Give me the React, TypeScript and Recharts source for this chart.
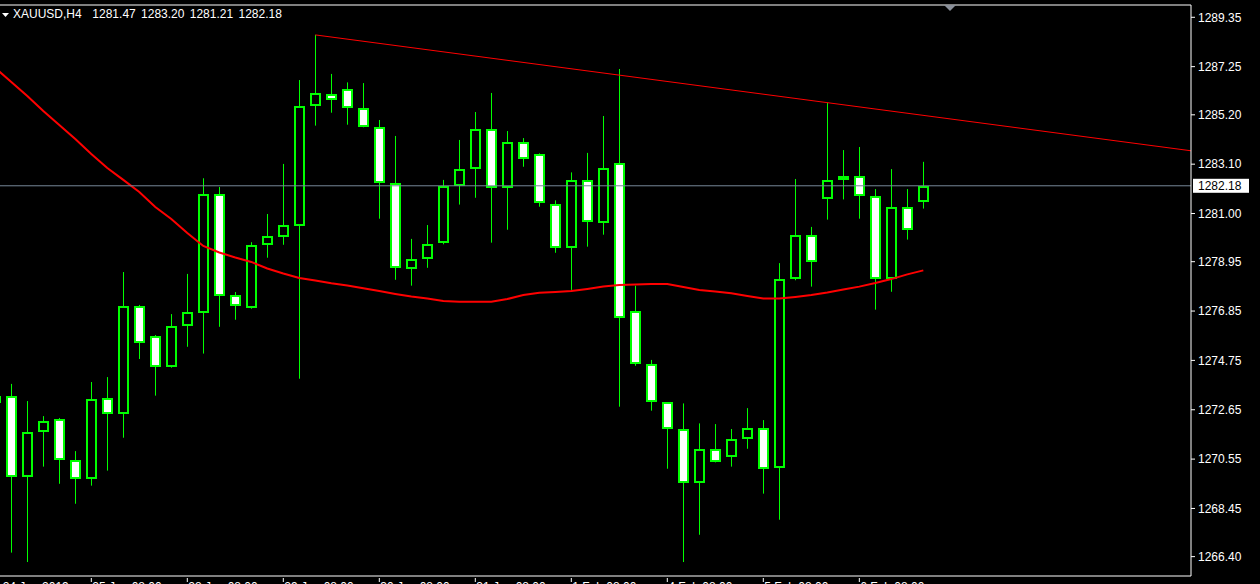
import React from 'react';
import { ComposedChart, Bar, Line, XAxis, YAxis, ReferenceLine } from 'recharts';

// XAUUSD H4 bars, first one is the partial bar cut by the left edge
const OPEN = [
  1272.94, 1273.24, 1269.78, 1271.69, 1272.24, 1270.5, 1269.69, 1273.14, 1272.46, 1277.06,
  1275.78, 1274.48, 1276.2, 1276.78, 1281.82, 1277.52, 1276.99, 1279.65, 1279.99, 1280.46,
  1285.56, 1286.07, 1286.29, 1285.48, 1284.67, 1282.29, 1278.63, 1279.05, 1279.73, 1282.16,
  1282.88, 1284.58, 1282.07, 1284.03, 1283.52, 1281.39, 1279.52, 1282.41, 1280.58, 1283.14,
  1276.84, 1274.58, 1272.97, 1271.82, 1269.52, 1270.97, 1270.63, 1271.39, 1271.86, 1270.16,
  1278.2, 1280.07, 1281.61, 1282.41, 1282.58, 1281.73, 1278.2, 1281.26, 1281.47,
];
const HIGH = [
  1273.24, 1273.75, 1273.02, 1272.38, 1272.3, 1270.89, 1273.83, 1274.04, 1278.51, 1277.11,
  1275.83, 1276.72, 1278.43, 1282.5, 1282.13, 1277.66, 1279.78, 1280.98, 1283.11, 1286.68,
  1288.6, 1286.94, 1286.58, 1286.55, 1284.98, 1284.3, 1279.92, 1280.51, 1282.43, 1284.13,
  1285.32, 1286.13, 1284.51, 1284.21, 1283.56, 1281.56, 1282.75, 1283.58, 1285.15, 1287.15,
  1277.93, 1274.77, 1272.97, 1272.92, 1272.07, 1272.04, 1271.83, 1272.72, 1272.21, 1278.89,
  1282.47, 1280.43, 1285.72, 1283.7, 1283.83, 1282.04, 1282.89, 1282.04, 1283.2,
];
const LOW = [
  1272.94, 1266.57, 1266.17, 1270.23, 1269.5, 1268.65, 1269.42, 1270.06, 1271.46, 1274.81,
  1273.25, 1274.44, 1275.33, 1275.04, 1276.18, 1276.48, 1276.95, 1279.12, 1279.67, 1273.97,
  1284.74, 1285.29, 1284.78, 1284.67, 1280.78, 1278.18, 1277.93, 1278.69, 1279.69, 1281.38,
  1281.67, 1279.76, 1280.31, 1282.99, 1281.29, 1279.33, 1277.75, 1279.59, 1280.1, 1272.78,
  1274.52, 1272.61, 1270.14, 1266.17, 1267.33, 1270.41, 1270.23, 1270.99, 1269.08, 1267.97,
  1278.16, 1277.89, 1280.74, 1281.6, 1280.78, 1276.91, 1277.67, 1279.89, 1281.21,
];
const CLOSE = [
  1273.24, 1269.78, 1271.7, 1272.16, 1270.5, 1269.69, 1273.09, 1272.46, 1277.06, 1275.48,
  1274.48, 1276.2, 1276.8, 1281.82, 1277.48, 1277.05, 1279.65, 1280.03, 1280.5, 1285.56,
  1286.12, 1285.82, 1285.48, 1284.67, 1282.29, 1278.67, 1279.05, 1279.69, 1282.16, 1282.88,
  1284.58, 1282.07, 1284.03, 1283.31, 1281.44, 1279.52, 1282.41, 1280.63, 1282.92, 1276.54,
  1274.58, 1272.97, 1271.82, 1269.52, 1270.97, 1270.41, 1271.39, 1271.86, 1270.12, 1278.2,
  1280.07, 1278.92, 1282.41, 1282.58, 1281.73, 1278.2, 1281.26, 1280.29, 1282.18,
];
// moving average, one value per bar
const MA_LINE = [
  1287.19, 1286.6, 1286.0, 1285.36, 1284.77, 1284.17, 1283.53, 1282.94, 1282.43, 1281.92,
  1281.28, 1280.77, 1280.17, 1279.62, 1279.34, 1279.13, 1278.94, 1278.66, 1278.45, 1278.26,
  1278.15, 1278.03, 1277.94, 1277.82, 1277.7, 1277.58, 1277.47, 1277.38, 1277.28, 1277.25,
  1277.25, 1277.25, 1277.36, 1277.53, 1277.63, 1277.66, 1277.7, 1277.79, 1277.89, 1277.96,
  1277.98, 1278.0, 1278.0, 1277.87, 1277.75, 1277.68, 1277.61, 1277.49, 1277.38, 1277.38,
  1277.45, 1277.53, 1277.64, 1277.77, 1277.89, 1278.04, 1278.21, 1278.41, 1278.58,
];

const Y_TICKS = [
  1289.35, 1287.25, 1285.2, 1283.1, 1281.0, 1278.95, 1276.85, 1274.75, 1272.65, 1270.55, 1268.45, 1266.4,
];
const X_TICKS = [-0.6, 5, 11, 17, 23, 29, 35, 41, 47, 53];
const X_LABELS = [
  '24 Jan 2019', '25 Jan 08:00', '28 Jan 08:00', '29 Jan 08:00', '30 Jan 08:00',
  '31 Jan 08:00', '1 Feb 08:00', '4 Feb 08:00', '5 Feb 08:00', '6 Feb 08:00',
];
const LAST_PRICE = 1282.18;
const TREND_START = { i: 19, p: 1288.6 };
const TREND_END = { i: 73.73, p: 1283.67 };

const X_DOMAIN = [-0.706, 73.73];
const Y_DOMAIN = [1265.576, 1289.873];

const GREEN = '#00ff00';
const FONT = '"Liberation Sans", Arial, sans-serif';

const data = OPEN.map((o, n) => ({
  i: n - 1,
  open: o,
  high: HIGH[n],
  low: LOW[n],
  close: CLOSE[n],
  ma: MA_LINE[n],
}));

const Candle = (props: any) => {
  const { x, y, width, height, payload } = props;
  if (!payload || !height) return null;
  const { open, high, low, close } = payload;
  const k = height / (high - low);
  const py = (v: number) => y + (high - v) * k;
  const cx = Math.floor(x + width / 2) + 0.5;
  const top = Math.round(py(Math.max(open, close)));
  const bot = Math.round(py(Math.min(open, close)));
  return (
    <g>
      <line x1={cx} x2={cx} y1={y} y2={y + height} stroke={GREEN} strokeWidth={1} />
      <rect
        x={cx - 4.5}
        y={top + 1}
        width={9}
        height={Math.max(bot - top - 2, 0.5)}
        fill={close >= open ? '#000000' : '#ffffff'}
        stroke={GREEN}
        strokeWidth={2}
      />
    </g>
  );
};

const TimeTick = (props: any) => {
  const { x, y, index } = props;
  return (
    <g>
      {index > 0 && <line x1={x} x2={x} y1={y - 4} y2={y} stroke="#ffffff" strokeWidth={1} />}
      <text x={x + 1} y={y + 9} fill="#ffffff" fontSize={12} fontFamily={FONT}>
        {X_LABELS[index]}
      </text>
    </g>
  );
};

const PriceTag = (props: any) => {
  const { viewBox } = props;
  if (!viewBox) return null;
  const right = viewBox.x + viewBox.width;
  return (
    <g>
      <rect x={right + 2} y={viewBox.y - 7} width={56} height={14} fill="#ffffff" />
      <text x={right + 7} y={viewBox.y + 4.5} fill="#000000" fontSize={12} fontFamily={FONT}>
        {LAST_PRICE.toFixed(2)}
      </text>
    </g>
  );
};

export default function App() {
  return (
    <div style={{ position: 'absolute', left: 0, top: 0, width: 1260, height: 584, background: '#000000', overflow: 'hidden' }}>
      <ComposedChart width={1260} height={584} data={data} margin={{ top: 5, right: 0, bottom: 0, left: 0 }}>
        <XAxis
          dataKey="i"
          type="number"
          domain={X_DOMAIN}
          allowDataOverflow
          ticks={X_TICKS}
          interval={0}
          height={8}
          tickSize={4}
          tickLine={false}
          tick={<TimeTick />}
          axisLine={{ stroke: '#ffffff', strokeWidth: 1 }}
        />
        <YAxis
          orientation="right"
          type="number"
          domain={Y_DOMAIN}
          allowDataOverflow
          ticks={Y_TICKS}
          interval={0}
          width={69}
          tickSize={4}
          tickMargin={3}
          tickFormatter={(v: number) => v.toFixed(2)}
          tick={{ fill: '#ffffff', fontSize: 12, fontFamily: FONT }}
          tickLine={{ stroke: '#ffffff' }}
          axisLine={{ stroke: '#ffffff', strokeWidth: 1 }}
        />
        <Bar dataKey={(d: any) => [d.low, d.high]} barSize={11} shape={<Candle />} isAnimationActive={false} />
        <Line dataKey="ma" type="linear" stroke="#ff0000" strokeWidth={2} dot={false} isAnimationActive={false} />
        <ReferenceLine y={Y_DOMAIN[1]} stroke="#ffffff" ifOverflow="visible" />
        <ReferenceLine y={LAST_PRICE} stroke="#778899" label={<PriceTag />} />
        <ReferenceLine
          segment={[{ x: TREND_START.i, y: TREND_START.p }, { x: TREND_END.i, y: TREND_END.p }]}
          stroke="#ff0000"
          ifOverflow="visible"
        />
      </ComposedChart>
      <svg width={1260} height={584} style={{ position: 'absolute', left: 0, top: 0, pointerEvents: 'none' }}>
        <polygon points="2,13 9,13 5.5,17" fill="#ffffff" />
        <polygon points="944,5 956,5 950,11" fill="#8a8f99" />
      </svg>
      <div
        style={{
          position: 'absolute',
          left: 13,
          top: 7,
          color: '#ffffff',
          fontFamily: FONT,
          fontSize: 12,
          lineHeight: '14px',
          whiteSpace: 'pre',
          wordSpacing: 2,
        }}
      >
        {'XAUUSD,H4  1281.47 1283.20 1281.21 1282.18'}
      </div>
    </div>
  );
}
